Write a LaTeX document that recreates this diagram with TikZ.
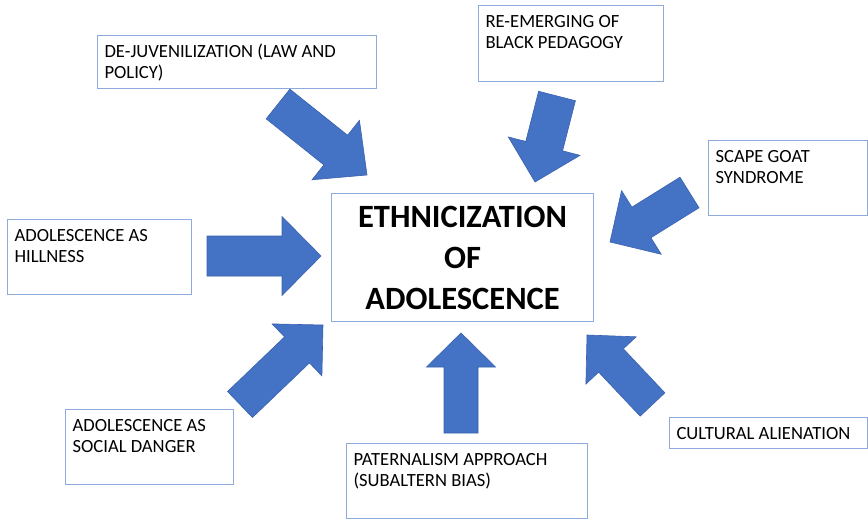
\documentclass[tikz,border=0pt]{standalone}
\usepackage{fontspec}
\setmainfont{Carlito}
\usetikzlibrary{calc}

\definecolor{boxline}{HTML}{8FAADC}
\definecolor{arrfill}{HTML}{4472C4}
\definecolor{arrline}{HTML}{3A62AE}

% text set at the top of a fixed-size box
\newcommand{\toptext}[3]{\parbox[t][#2][t]{#1}{\raggedright\strut #3}}

\begin{document}
\begin{tikzpicture}[
    x=1pt, y=-1pt,
    font=\fontsize{18.6}{21.5}\selectfont,
    % Node styles
    topic/.style={
        rectangle, draw=boxline, line width=1.1pt, fill=white,
        anchor=north west, inner xsep=7pt, inner ysep=6.7pt
    },
    core/.style={
        rectangle, draw=boxline, line width=1.1pt, fill=white,
        anchor=north west, text width=250pt, align=center,
        minimum width=262pt, minimum height=128pt, inner sep=6pt,
        font=\fontsize{32.5}{41}\selectfont\bfseries
    },
    % Block arrows (half widths, head length)
    arrshaft/.store in=\arrshaft, arrhead/.store in=\arrhead, arrlen/.store in=\arrlen,
    arrshaft=18pt, arrhead=37pt, arrlen=37pt,
    fat/.style={
        fill=arrfill, draw=arrline, line width=0.6pt, line join=miter,
        to path={let \p1=($(\tikztotarget)!\arrlen!(\tikztostart)$) in
            ($(\tikztostart)!\arrshaft!90:(\tikztotarget)$)
            -- ($(\p1)!\arrshaft!-90:(\tikztostart)$)
            -- ($(\p1)!\arrhead!-90:(\tikztostart)$)
            -- (\tikztotarget)
            -- ($(\p1)!\arrhead!90:(\tikztostart)$)
            -- ($(\p1)!\arrshaft!90:(\tikztostart)$)
            -- ($(\tikztostart)!\arrshaft!-90:(\tikztotarget)$) -- cycle}
    }
    ]
    
    \path[use as bounding box, fill=white] (0,0) rectangle (868,519);
    
    %% ─── CENTRE ───────────────────────────────────────────────
    \node[core] (core) at (331,193) {ETHNICIZATION\\OF\\ADOLESCENCE};
    
    %% ─── TOPICS ───────────────────────────────────────────────
    \node[topic] (dejuv)  at (97,35)   {\toptext{265pt}{39.6pt}{DE-JUVENILIZATION (LAW AND\\POLICY)}};
    \node[topic] (black)  at (478,5)   {\toptext{171pt}{62.6pt}{RE-EMERGING OF\\BLACK PEDAGOGY}};
    \node[topic] (scape)  at (708,140) {\toptext{145pt}{61.6pt}{SCAPE GOAT\\SYNDROME}};
    \node[topic] (hill)   at (7,219)   {\toptext{170pt}{61.6pt}{ADOLESCENCE AS\\HILLNESS}};
    \node[topic] (danger) at (65,409)  {\toptext{154pt}{61.6pt}{ADOLESCENCE AS\\SOCIAL DANGER}};
    \node[topic] (patern) at (346,443) {\toptext{227pt}{61.6pt}{PATERNALISM APPROACH\\(SUBALTERN BIAS)}};
    \node[topic] (alien)  at (669,417) {\toptext{184pt}{17.6pt}{CULTURAL ALIENATION}};
    
    %% ─── ARROWS (tail / tip) ──────────────────────────────────
    \coordinate (dejuv-s)  at (278,104);   \coordinate (dejuv-e)  at (367,175);
    \coordinate (black-s)  at (557,96);    \coordinate (black-e)  at (535,182);
    \coordinate (scape-s)  at (689.5,192.5); \coordinate (scape-e) at (610,242);
    \coordinate (hill-s)   at (207,256);   \coordinate (hill-e)   at (321,256);
    \coordinate (danger-s) at (240,404.5); \coordinate (danger-e) at (323,325);
    \coordinate (patern-s) at (461,433);   \coordinate (patern-e) at (461,333);
    \coordinate (alien-s)  at (652.5,404.5); \coordinate (alien-e) at (587,335);
    
    \draw[fat, arrshaft=19pt, arrhead=38pt, arrlen=40pt]     (dejuv-s) to (dejuv-e);
    \draw[fat, arrshaft=19pt, arrhead=37pt, arrlen=37pt]     (black-s) to (black-e);
    \draw[fat, arrshaft=18pt, arrhead=37.5pt, arrlen=37pt]   (scape-s) to (scape-e);
    \draw[fat, arrshaft=20pt, arrhead=39.5pt, arrlen=39pt]   (hill-s) to (hill-e);
    \draw[fat, arrshaft=18pt, arrhead=36pt, arrlen=36pt]     (danger-s) to (danger-e);
    \draw[fat, arrshaft=17pt, arrhead=34.5pt, arrlen=34pt]   (patern-s) to (patern-e);
    \draw[fat, arrshaft=17pt, arrhead=34.5pt, arrlen=35pt]   (alien-s) to (alien-e);
    
\end{tikzpicture}
\end{document}
